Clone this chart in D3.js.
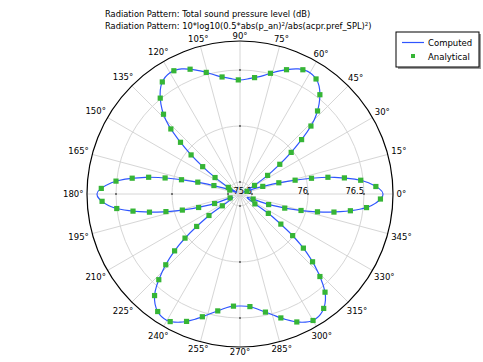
<!DOCTYPE html>
<html>
<head>
<meta charset="utf-8">
<script src="https://cdn.jsdelivr.net/npm/d3@7"></script>
<style>
  body { margin: 0; background: #fff; }
  text { font-family: "DejaVu Sans", sans-serif; fill: #000; }
</style>
</head>
<body>
<script>
// polar angles (degrees, counter-clockwise from east)
const angles = d3.range(0, 360, 5);

// sound pressure level (dB)
const computed = [
  76.670, 76.545, 76.250, 75.831, 75.545, 75.429, 75.527, 75.741, 76.036,
  76.331, 76.500, 76.607, 76.643, 76.625, 76.572, 76.514, 76.460, 76.429,
  76.411, 76.429, 76.460, 76.514, 76.572, 76.625, 76.643, 76.607, 76.500,
  76.331, 76.036, 75.741, 75.527, 75.429, 75.545, 75.831, 76.250, 76.545,
  76.670, 76.572, 76.304, 75.964, 75.679, 75.464, 75.473, 75.750, 76.107,
  76.375, 76.580, 76.674, 76.697, 76.656, 76.585, 76.509, 76.447, 76.402,
  76.393, 76.402, 76.447, 76.509, 76.585, 76.656, 76.697, 76.674, 76.580,
  76.375, 76.107, 75.750, 75.473, 75.464, 75.679, 75.964, 76.304, 76.572
];

const radialTicks = [75.5, 76, 76.5];
const radialLabels = ["75.5", "76", "76.5"];
const thetaTicks = d3.range(0, 360, 15);
const legendNames = ["Computed", "Analytical"];

const width = 483,
  height = 362,
  cx = 240,
  cy = 194,
  R = 153;

const lineColor = "#2f55ff",
  markerColor = "#36b536";

const svg = d3
  .select("body")
  .append("svg")
  .attr("width", width)
  .attr("height", height);

svg.append("rect").attr("width", width).attr("height", height).attr("fill", "#fff");

const r = d3.scaleLinear().domain([75.393, 76.759]).range([0, R]);
const rad = deg => (deg * Math.PI) / 180;

const polar = svg.append("g").attr("transform", `translate(${cx},${cy})`);

// grid circles
polar
  .selectAll("circle.grid")
  .data(radialTicks)
  .enter()
  .append("circle")
  .attr("class", "grid")
  .attr("r", d => r(d))
  .attr("fill", "none")
  .attr("stroke", "#d6d6d6")
  .attr("stroke-width", 1);

// spokes
polar
  .selectAll("line.spoke")
  .data(thetaTicks)
  .enter()
  .append("line")
  .attr("x1", 0)
  .attr("y1", 0)
  .attr("x2", d => R * Math.cos(rad(d)))
  .attr("y2", d => -R * Math.sin(rad(d)))
  .attr("stroke", "#d6d6d6")
  .attr("stroke-width", 1);

// small radial ticks on the cardinal axes
[0, 90, 180, 270].forEach(a => {
  polar
    .selectAll(null)
    .data(radialTicks)
    .enter()
    .append("circle")
    .attr("cx", d => r(d) * Math.cos(rad(a)))
    .attr("cy", d => -r(d) * Math.sin(rad(a)))
    .attr("r", 0.9)
    .attr("fill", "#444");
});

// outer frame
polar
  .append("circle")
  .attr("r", R)
  .attr("fill", "none")
  .attr("stroke", "#000")
  .attr("stroke-width", 1.2);

// radial labels along 0 deg
polar
  .selectAll("text.rlab")
  .data(radialTicks)
  .enter()
  .append("text")
  .attr("x", d => r(d))
  .attr("y", -0.5)
  .attr("text-anchor", "end")
  .attr("font-size", 8.3)
  .text((d, i) => radialLabels[i]);

// angle labels
polar
  .selectAll("text.tlab")
  .data(thetaTicks)
  .enter()
  .append("text")
  .attr("class", "tlab")
  .attr("font-size", 8.5)
  .attr("text-anchor", "middle")
  .attr("dy", "0.35em")
  .text(d => d + "°")
  .each(function (d) {
    const w = this.getComputedTextLength();
    const c = Math.cos(rad(d)),
      s = Math.sin(rad(d));
    const dist = R + 2 + Math.abs(c) * (w / 2 + 1.5) + Math.abs(s) * 3;
    d3.select(this)
      .attr("x", dist * c)
      .attr("y", -dist * s);
  });

// computed curve
const line = d3
  .lineRadial()
  .angle((d, i) => rad(90 - angles[i]))
  .radius(d => r(d))
  .curve(d3.curveCatmullRomClosed);

const path = polar
  .append("path")
  .datum(computed)
  .attr("d", line)
  .attr("fill", "none")
  .attr("stroke", lineColor)
  .attr("stroke-width", 1.2);

// analytical markers, evenly spaced along the curve
const node = path.node();
const total = node.getTotalLength();
const count = Math.round(total / 16.5);
const step = total / count;
const pts = d3.range(count).map(k => node.getPointAtLength(step / 2 + k * step));

polar
  .selectAll("rect.mk")
  .data(pts)
  .enter()
  .append("rect")
  .attr("x", p => p.x - 2.6)
  .attr("y", p => p.y - 2.6)
  .attr("width", 5.2)
  .attr("height", 5.2)
  .attr("fill", markerColor);

// title
const title = svg
  .append("text")
  .attr("x", 105)
  .attr("y", 17)
  .attr("font-size", 8.3);
title.append("tspan").attr("x", 105).text("Radiation Pattern: Total sound pressure level (dB)");
const t2 = title.append("tspan").attr("x", 105).attr("dy", 12);
t2.append("tspan").text("Radiation Pattern: 10*log10(0.5*abs(p_an)");
t2.append("tspan").attr("dy", -3.5).attr("font-size", 5.5).text("2");
t2.append("tspan").attr("dy", 3.5).text("/abs(acpr.pref_SPL)");
t2.append("tspan").attr("dy", -3.5).attr("font-size", 5.5).text("2");
t2.append("tspan").attr("dy", 3.5).text(")");

// legend
const legend = svg.append("g").attr("transform", "translate(396,32)");
legend.append("rect").attr("x", 2).attr("y", 2).attr("width", 83).attr("height", 35).attr("fill", "#999");
legend
  .append("rect")
  .attr("width", 83)
  .attr("height", 35)
  .attr("fill", "#fff")
  .attr("stroke", "#000")
  .attr("stroke-width", 1);

legend
  .append("line")
  .attr("x1", 6)
  .attr("x2", 28)
  .attr("y1", 10.5)
  .attr("y2", 10.5)
  .attr("stroke", lineColor)
  .attr("stroke-width", 1.2);
legend
  .append("rect")
  .attr("x", 15)
  .attr("y", 22)
  .attr("width", 4)
  .attr("height", 4)
  .attr("fill", markerColor);

legend
  .selectAll("text.leg")
  .data(legendNames)
  .enter()
  .append("text")
  .attr("x", 32)
  .attr("y", (d, i) => 13.5 + i * 14)
  .attr("font-size", 8.5)
  .text(d => d);
</script>
</body>
</html>
